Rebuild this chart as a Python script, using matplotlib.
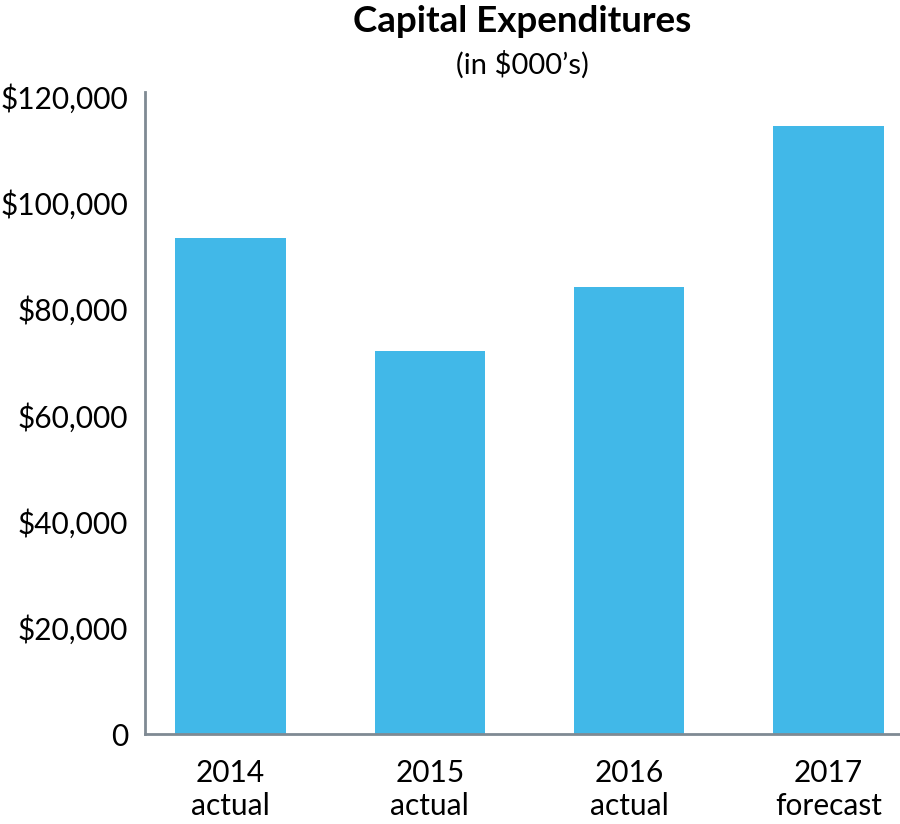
import numpy as np
import matplotlib.pyplot as plt
from matplotlib.ticker import FuncFormatter

plt.rcParams['font.family'] = ['Lato', 'DejaVu Sans']

years = ['2014', '2015', '2016', '2017']
kinds = ['actual', 'actual', 'actual', 'forecast']
capex = [93300, 72100, 84000, 114400]
yticks = [0, 20000, 40000, 60000, 80000, 100000, 120000]

fig = plt.figure(figsize=(9, 8.24), dpi=100)
ax = fig.add_axes([145 / 900, 90 / 824, 755 / 900, 642 / 824])

x = np.arange(len(years))
ax.bar(x, capex, width=0.555, color='#41b8e8')

ax.set_xlim(-0.43, 3.36)
ax.set_ylim(0, 120750)
ax.set_yticks(yticks)
ax.yaxis.set_major_formatter(FuncFormatter(lambda v, p: '0' if v == 0 else '${:,.0f}'.format(v)))
ax.set_xticks(x)
ax.set_xticklabels([y + '\n' + k for y, k in zip(years, kinds)], linespacing=1.22)
ax.tick_params(axis='both', length=0, labelsize=21.5, colors='black')
ax.tick_params(axis='x', pad=18)
ax.tick_params(axis='y', pad=12)

for s in ['top', 'right']:
    ax.spines[s].set_visible(False)
for s in ['left', 'bottom']:
    ax.spines[s].set_color('#7f8a93')
    ax.spines[s].set_linewidth(2)

fig.text(522 / 900, 1 - 22 / 824, 'Capital Expenditures', ha='center', va='center',
         fontsize=26.5, fontweight='bold')
fig.text(522 / 900, 1 - 65 / 824, '(in $000\u2019s)', ha='center', va='center', fontsize=21)

fig.savefig('out.png', dpi=100)
